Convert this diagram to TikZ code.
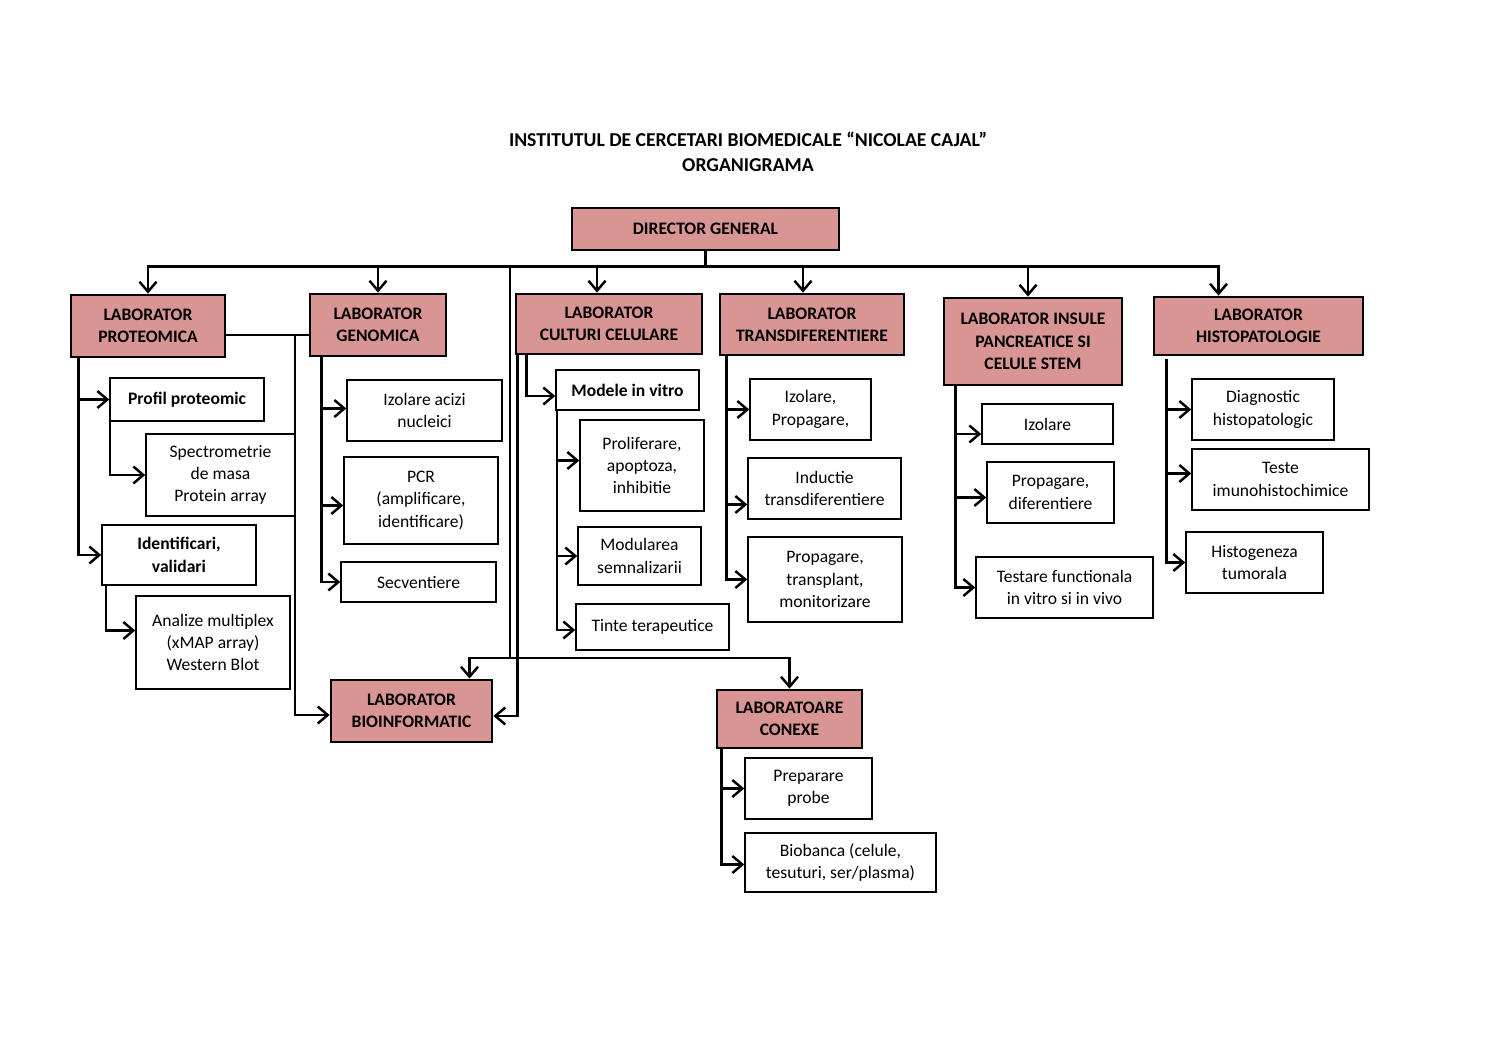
\documentclass[tikz,border=0pt]{standalone}
\usepackage{fontspec}
\setmainfont{Carlito}
\usetikzlibrary{arrows.meta,calc}
\definecolor{labpink}{HTML}{D99594}
\tikzset{
	lab/.style={draw, line width=1.6pt, fill=labpink, align=center, inner sep=1pt,
		font=\fontsize{10}{12.7}\selectfont\bfseries},
	item/.style={draw, line width=0.9pt, fill=white, align=center, inner sep=1pt,
		font=\fontsize{10}{12.7}\selectfont},
	bolditem/.style={item, font=\fontsize{10}{12.7}\selectfont\bfseries},
	conn/.style={line width=1.4pt},
	arr/.style={conn, -{Straight Barb[length=2mm,width=3.4mm]}}
}
\begin{document}
\begin{tikzpicture}[x=0.02cm,y=-0.02cm]
			\useasboundingbox (0,0) rectangle (1497,1058);
			\node[align=center, font=\fontsize{11.2}{13}\selectfont\bfseries] (title) at (748,152)
				{INSTITUTUL DE CERCETARI BIOMEDICALE “NICOLAE CAJAL”\\[1.5pt] ORGANIGRAMA};
			\node[lab, minimum width=5.34cm, minimum height=0.84cm] (dir) at (705.5,229) {DIRECTOR GENERAL};
			\node[lab, minimum width=3.08cm, minimum height=1.24cm] (prot) at (148,326) {LABORATOR\\PROTEOMICA};
			\node[lab, minimum width=2.72cm, minimum height=1.24cm] (gen) at (378,325) {LABORATOR\\GENOMICA};
			\node[lab, minimum width=3.72cm, minimum height=1.2cm] (cult) at (609,324) {LABORATOR\\CULTURI CELULARE};
			\node[lab, minimum width=3.68cm, minimum height=1.22cm] (trans) at (812,324.5) {LABORATOR\\TRANSDIFERENTIERE};
			\node[lab, minimum width=3.56cm, minimum height=1.74cm] (insu) at (1033,341.5) {LABORATOR INSULE\\PANCREATICE SI\\CELULE STEM};
			\node[lab, minimum width=4.18cm, minimum height=1.16cm] (hist) at (1258.5,326) {LABORATOR\\HISTOPATOLOGIE};
			\node[lab, minimum width=3.22cm, minimum height=1.24cm] (bio) at (411.5,711) {LABORATOR\\BIOINFORMATIC};
			\node[lab, minimum width=2.9cm, minimum height=1.16cm] (conx) at (789.5,719) {LABORATOARE\\CONEXE};
			% proteomica
			\node[bolditem, minimum width=3.08cm, minimum height=0.86cm] (pprof) at (187,399.5) {Profil proteomic};
			\node[item, minimum width=2.98cm, minimum height=1.64cm] (pspec) at (220.5,475) {Spectrometrie\\de masa\\Protein array};
			\node[bolditem, minimum width=3.08cm, minimum height=1.2cm] (pident) at (179,555) {Identificari,\\validari};
			\node[item, minimum width=3.08cm, minimum height=1.86cm] (panal) at (213,642.5) {Analize multiplex\\(xMAP array)\\Western Blot};
			% genomica
			\node[item, minimum width=3.1cm, minimum height=1.22cm] (gizol) at (424.5,410.5) {Izolare acizi\\nucleici};
			\node[item, minimum width=3.08cm, minimum height=1.74cm] (gpcr) at (421,500.5) {PCR\\(amplificare,\\identificare)};
			\node[item, minimum width=3.1cm, minimum height=0.8cm] (gsecv) at (418.5,582) {Secventiere};
			% culturi celulare
			\node[bolditem, minimum width=2.86cm, minimum height=0.8cm] (cmod) at (627.5,390) {Modele in vitro};
			\node[item, minimum width=2.48cm, minimum height=1.82cm] (cprol) at (642,465.5) {Proliferare,\\apoptoza,\\inhibitie};
			\node[item, minimum width=2.46cm, minimum height=1.16cm] (csemn) at (639.5,556) {Modularea\\semnalizarii};
			\node[item, minimum width=3.06cm, minimum height=0.92cm] (ctint) at (652.5,627) {Tinte terapeutice};
			% transdiferentiere
			\node[item, minimum width=2.42cm, minimum height=1.22cm] (tizol) at (810.5,409.5) {Izolare,\\Propagare,};
			\node[item, minimum width=3.06cm, minimum height=1.22cm] (tind) at (824.5,488.5) {Inductie\\transdiferentiere};
			\node[item, minimum width=3.08cm, minimum height=1.7cm] (tprop) at (825,579.5) {Propagare,\\transplant,\\monitorizare};
			% insule
			\node[item, minimum width=2.62cm, minimum height=0.8cm] (iizol) at (1047.5,424) {Izolare};
			\node[item, minimum width=2.54cm, minimum height=1.22cm] (iprop) at (1050.5,492.5) {Propagare,\\diferentiere};
			\node[item, minimum width=3.54cm, minimum height=1.22cm] (itest) at (1064.5,587.5) {Testare functionala\\in vitro si in vivo};
			% histopatologie
			\node[item, minimum width=2.84cm, minimum height=1.22cm] (hdiag) at (1263,409.5) {Diagnostic\\histopatologic};
			\node[item, minimum width=3.54cm, minimum height=1.22cm] (hteste) at (1280.5,479.5) {Teste\\imunohistochimice};
			\node[item, minimum width=2.74cm, minimum height=1.22cm] (hgen) at (1254.5,562.5) {Histogeneza\\tumorala};
			% conexe
			\node[item, minimum width=2.54cm, minimum height=1.22cm] (xprep) at (808.5,788.5) {Preparare\\probe};
			\node[item, minimum width=3.82cm, minimum height=1.18cm] (xbio) at (840.5,862.5) {Biobanca (celule,\\tesuturi, ser/plasma)};

			\draw[conn] (dir.south) -- ++(0,15) coordinate (bus);
			\draw[arr] (bus) -| (prot.north);
			\draw[arr] (bus) -| (gen.north);
			\draw[arr] (bus) -| ($(cult.north)+(-12,0)$);
			\draw[arr] (bus) -| ($(trans.north)+(-9,0)$);
			\draw[arr] (bus) -| ($(insu.north)+(-5,0)$);
			\draw[arr] (bus) -| ($(hist.north)+(-40,0)$);
			\coordinate (bdrop) at (510,658);
			\draw[conn] (bus -| bdrop) -- (bdrop);
			\draw[arr] (bdrop) -| ($(bio.north)+(58,0)$);
			\draw[arr] (bdrop) -| (conx.north);
			\draw[arr] (cult.south west) ++(3,0) |- ($(bio.east)+(0,5)$);
			\coordinate (pgj) at (295,335);
			\draw[conn] (prot.east |- pgj) -- (gen.west |- pgj);
			\draw[arr] (pgj) |- ($(bio.west)+(0,4)$);

			\draw[arr] (prot.south west) ++(9,0) |- (pprof.west);
			\draw[arr] (prot.south west) ++(9,0) |- (pident.west);
			\draw[arr] (pprof.south west) ++(1,0) |- (pspec.west);
			\draw[arr] (pident.south west) ++(5,0) |- ($(panal.west)+(0,-12)$);
			\draw[arr] (gen.south west) ++(13,0) |- ($(gizol.west)+(0,-2)$);
			\draw[arr] (gen.south west) ++(13,0) |- ($(gpcr.west)+(0,5)$);
			\draw[arr] (gen.south west) ++(13,0) |- (gsecv.west);
			\draw[arr] (cult.south west) ++(12,0) |- ($(cmod.west)+(0,6)$);
			\draw[arr] (cmod.south west) ++(2,0) |- ($(cprol.west)+(0,-5)$);
			\draw[arr] (cmod.south west) ++(2,0) |- (csemn.west);
			\draw[arr] (cmod.south west) ++(2,0) |- ($(ctint.west)+(0,3)$);
			\draw[arr] (trans.south west) ++(8,0) |- (tizol.west);
			\draw[arr] (trans.south west) ++(8,0) |- ($(tind.west)+(0,16)$);
			\draw[arr] (trans.south west) ++(8,0) |- (tprop.west);
			\draw[arr] (insu.south west) ++(13,0) |- ($(iizol.west)+(0,10)$);
			\draw[arr] (insu.south west) ++(13,0) |- ($(iprop.west)+(0,5)$);
			\draw[arr] (insu.south west) ++(13,0) |- (itest.west);
			\draw[arr] (hist.south west) ++(14,3) |- (hdiag.west);
			\draw[arr] (hist.south west) ++(14,3) |- ($(hteste.west)+(0,-6)$);
			\draw[arr] (hist.south west) ++(14,3) |- (hgen.west);
			\draw[arr] (conx.south west) ++(6,0) |- (xprep.west);
			\draw[arr] (conx.south west) ++(6,0) |- ($(xbio.west)+(0,2)$);
		\end{tikzpicture}
\end{document}
